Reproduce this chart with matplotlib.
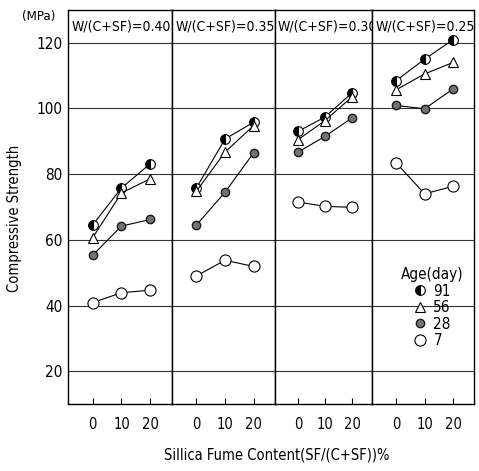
import matplotlib
matplotlib.use('Agg')
import matplotlib.pyplot as plt

plt.rcParams.update({
    'font.family': ['DejaVu Sans'],
    'font.stretch': 'condensed',
    'font.size': 10,
    'axes.linewidth': 1.0,
})

sf = [0, 10, 20]
ratios = ['0.40', '0.35', '0.30', '0.25']

# compressive strength (MPa) per age, one list per W/(C+SF) panel
age91 = [[64.5, 75.8, 83.2], [75.8, 90.7, 95.8], [93.0, 97.4, 104.7], [108.5, 115.0, 120.9]]
age56 = [[60.6, 74.3, 78.6], [74.8, 86.7, 94.8], [90.5, 96.3, 103.5], [105.7, 110.5, 114.0]]
age28 = [[55.3, 64.2, 66.2], [64.5, 74.5, 86.5], [86.7, 91.5, 97.1], [100.9, 99.9, 105.9]]
age7 = [[40.9, 43.9, 44.7], [49.0, 53.8, 51.9], [71.5, 70.2, 69.9], [83.4, 74.0, 76.3]]

y_ticks = [20, 40, 60, 80, 100, 120]

fig, axes = plt.subplots(1, 4, figsize=(4.79, 4.71), dpi=100, sharey=True,
                         gridspec_kw={'width_ratios': [104, 103, 97, 102]})
plt.subplots_adjust(left=0.142, right=0.990, top=0.979, bottom=0.142, wspace=0)

for i, ax in enumerate(axes):
    for y in y_ticks:
        ax.axhline(y, color='0.2', lw=0.8, zorder=1)
    ax.plot(sf, age91[i], '-', color='black', lw=0.8, marker='o', ms=7,
            fillstyle='left', markerfacecolor='black', markerfacecoloralt='white',
            markeredgecolor='black', markeredgewidth=0.8, zorder=3, label='91')
    ax.plot(sf, age56[i], '-', color='black', lw=0.8, marker='^', ms=7.5,
            markerfacecolor='white', markeredgecolor='black', markeredgewidth=0.8,
            zorder=3, label='56')
    ax.plot(sf, age28[i], '-', color='black', lw=0.8, marker='o', ms=6,
            markerfacecolor='0.45', markeredgecolor='0.1', markeredgewidth=1.0,
            zorder=3, label='28')
    ax.plot(sf, age7[i], '-', color='black', lw=0.8, marker='o', ms=8,
            markerfacecolor='white', markeredgecolor='black', markeredgewidth=0.8,
            zorder=3, label='7')
    ax.set_xlim(-8.5, 27.5)
    ax.set_ylim(10, 130)
    ax.set_xticks(sf)
    ax.set_xticklabels([str(v) for v in sf], fontsize=10.5)
    ax.tick_params(axis='x', direction='in', length=4, pad=9)
    ax.tick_params(axis='y', length=0, pad=4, labelsize=11)
    ax.text(0.03, 120 + 5, f'W/(C+SF)={ratios[i]}', transform=ax.get_yaxis_transform(),
            ha='left', va='center', fontsize=10)

axes[0].set_yticks(y_ticks)
axes[0].set_ylabel('Compressive Strength', fontsize=10.5)
axes[0].yaxis.set_label_coords(-0.44, 0.47)
fig.text(0.045, 0.965, '(MPa)', ha='left', va='center', fontsize=9.5)
fig.text(0.578, 0.035, 'Sillica Fume Content(SF/(C+SF))%', ha='center', va='center', fontsize=10.5)

handles, labels = axes[3].get_legend_handles_labels()
leg = axes[3].legend(handles, labels, title='Age(day)', loc='lower right',
                     bbox_to_anchor=(1.0, 0.115), frameon=False, fontsize=11,
                     title_fontsize=11, handlelength=0.8, handletextpad=0.5,
                     labelspacing=0.1, borderpad=0.2)
for h in leg.legend_handles:
    h.set_linestyle('none')

plt.savefig('out.png', dpi=100)
